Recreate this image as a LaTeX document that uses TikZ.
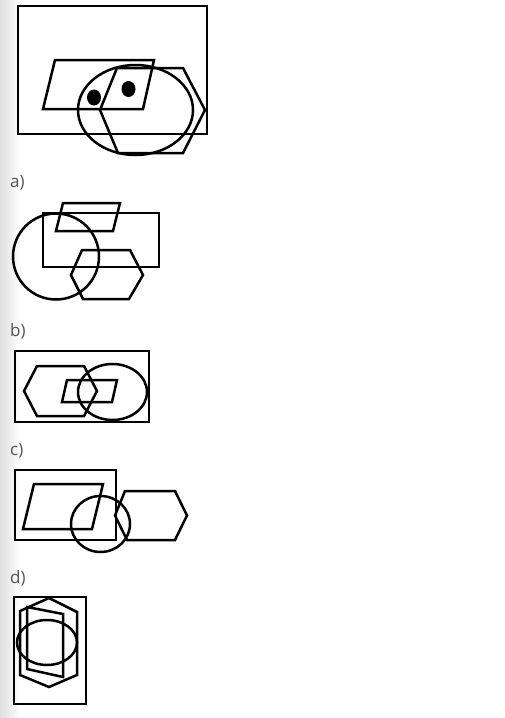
\documentclass[tikz,border=0pt]{standalone}
\usepackage{fontspec}
\setmainfont{Open Sans}
\definecolor{labelGray}{HTML}{555555}

\begin{document}
\begin{tikzpicture}[
  x=1pt, y=-1pt,
  outline/.style={draw=black, line width=2.5pt, line join=miter},
  frame/.style={outline, line width=2.8pt},
  dot/.style={fill=black},
  optlabel/.style={anchor=west, inner sep=0pt, text=labelGray, font=\fontsize{17}{20}\selectfont}
]
\useasboundingbox (0,0) rectangle (504,718);
% faint shadow on the left edge
\shade[left color=black!13, right color=white] (0,0) rectangle (20,718);

% question figure
\draw[frame] (18,6) rectangle (207,134);
\draw[outline] (55,60) -- (154,60) -- (143,109) -- (43,109) -- cycle;
\draw[outline] (135.5,110) ellipse [x radius=57.5, y radius=45];
\draw[outline] (117,68) -- (183,68) -- (205,110) -- (183,153) -- (118,153) -- (100,110) -- cycle;
\fill[dot] (94,97.5) ellipse [x radius=7, y radius=8];
\fill[dot] (128.5,89) ellipse [x radius=7, y radius=8];

% option a
\node[optlabel] (labA) at (10,183) {a)};
\draw[frame] (43,213) rectangle (159,267);
\draw[outline] (63,203) -- (120,203) -- (113,231) -- (56,231) -- cycle;
\draw[outline] (56,256.5) circle [radius=43];
\draw[outline] (82,250) -- (130,250) -- (143,275) -- (129,299) -- (83,299) -- (71,275) -- cycle;

% option b
\node[optlabel] (labB) at (10,331) {b)};
\draw[frame] (15,351) rectangle (149,422);
\draw[outline] (37,366) -- (84,366) -- (97,391) -- (84,416) -- (37,416) -- (24,391) -- cycle;
\draw[outline] (67,380) -- (117,380) -- (112,402) -- (62,402) -- cycle;
\draw[outline] (112.5,392) ellipse [x radius=34.5, y radius=28];

% option c
\node[optlabel] (labC) at (10,451) {c)};
\draw[frame] (15,470) rectangle (116,540);
\draw[outline] (34,484) -- (103,484) -- (92,529) -- (23,529) -- cycle;
\draw[outline] (100.5,524) ellipse [x radius=29.5, y radius=28];
\draw[outline] (125,491) -- (175,491) -- (187,515.5) -- (175,540) -- (127,540) -- (115,515.5) -- cycle;

% option d
\node[optlabel] (labD) at (10,578) {d)};
\draw[frame] (14,597) rectangle (86,704);
\draw[outline] (49,598) -- (77,612) -- (77,675) -- (49,687) -- (20,675) -- (20,611) -- cycle;
\draw[outline] (27,607) -- (63,614) -- (63,677) -- (27,669) -- cycle;
\draw[outline] (47,642.5) ellipse [x radius=30, y radius=22.5];
\end{tikzpicture}
\end{document}
